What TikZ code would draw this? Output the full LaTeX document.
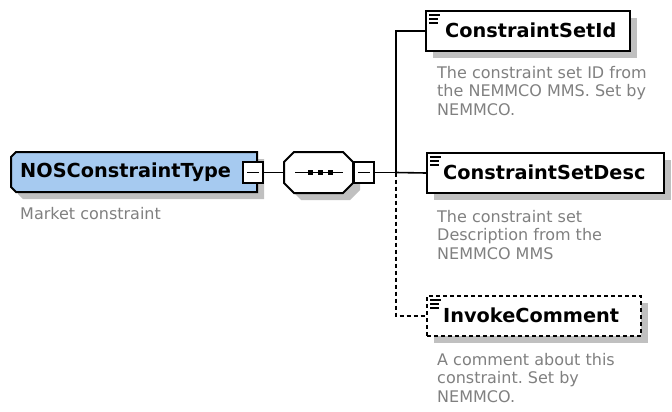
\documentclass[tikz,border=0pt]{standalone}
\usepackage{fontspec}
\setmainfont{DejaVu Sans}
\usetikzlibrary{shadows}
\definecolor{shadowgray}{HTML}{C0C0C0}
\definecolor{rootblue}{HTML}{A6CAF0}
\definecolor{descgray}{HTML}{808080}
\frenchspacing
\begin{document}
\begin{tikzpicture}[x=1pt,y=-1pt,
  elembox/.style={draw, line width=2pt, fill=white, minimum height=40pt, inner sep=0pt, anchor=north west,
    general shadow={fill=shadowgray, shadow xshift=7pt, shadow yshift=-7pt},
    path picture={
      \draw[line width=1.2pt, solid] ([shift={(3,4)}]path picture bounding box.north west) -- ++(11,0);
      \draw[line width=1.2pt, solid] ([shift={(3,8)}]path picture bounding box.north west) -- ++(9,0);
      \draw[line width=1.2pt, solid] ([shift={(3,12)}]path picture bounding box.north west) -- ++(9,0);
    }},
  elemname/.style={font=\bfseries\fontsize{19.3}{22}\selectfont, anchor=west, inner sep=0pt},
  desc/.style={font=\fontsize{16}{18.5}\selectfont, text=descgray, align=left, anchor=north west, inner sep=0pt},
  minusbox/.style={draw, fill=white, line width=1.6pt, minimum width=20pt, minimum height=21pt, inner sep=0pt,
    path picture={\draw[line width=1.6pt] ([xshift=4pt]path picture bounding box.west) -- ([xshift=-4pt]path picture bounding box.east);}},
  conn/.style={line width=1.6pt},
  optconn/.style={line width=1.6pt, dash pattern=on 4pt off 3pt}
]
\useasboundingbox (0,0) rectangle (672,412);

% root element
\fill[shadowgray, shift={(7,7)}] (16,152) -- (257,152) -- (257,192) -- (16,192) -- (11,187) -- (11,157) -- cycle;
\filldraw[fill=rootblue, line width=2pt] (16,152) -- (257,152) -- (257,192) -- (16,192) -- (11,187) -- (11,157) -- cycle;
\node[elemname] (root) at (20,172) {NOSConstraintType};
\node[minusbox] (rootm) at (253,172.5) {};
\node[desc, anchor=base west] (rootdesc) at (20,219) {Market constraint};

% sequence compositor
\fill[shadowgray, shift={(7,7)}] (294,152) -- (343,152) -- (353,162) -- (353,183) -- (343,193) -- (294,193) -- (284,183) -- (284,162) -- cycle;
\filldraw[fill=white, line width=2pt] (294,152) -- (343,152) -- (353,162) -- (353,183) -- (343,193) -- (294,193) -- (284,183) -- (284,162) -- cycle;
\node[minimum width=69pt, minimum height=41pt, inner sep=0pt] (seq) at (318.5,172.5) {};
\draw[line width=1.6pt] (295,172.5) -- (343,172.5);
\fill (307.5,170) rectangle (312.5,175);
\fill (317.5,170) rectangle (322.5,175);
\fill (327.5,170) rectangle (332.5,175);
\node[minusbox] (seqm) at (364,172.5) {};

% children
\node[elembox, minimum width=204pt] (c1) at (425,10) {};
\node[elemname] (c1n) at (445,30) {ConstraintSetId};
\node[desc] (c1d) at (437,66) {The constraint set ID from\\the NEMMCO MMS. Set by\\NEMMCO.};

\node[elembox, minimum width=237pt] (c2) at (426,152) {};
\node[elemname] (c2n) at (443,172) {ConstraintSetDesc};
\node[desc] (c2d) at (437,210) {The constraint set\\Description from the\\NEMMCO MMS};

\node[elembox, minimum width=214pt, dash pattern=on 4pt off 3pt] (c3) at (426,295) {};
\node[elemname] (c3n) at (443,315) {InvokeComment};
\node[desc] (c3d) at (437,353) {A comment about this\\constraint. Set by\\NEMMCO.};

% connectors
\coordinate (junc) at (396,172.5);
\draw[conn] (rootm.east) -- (seq.west);
\draw[conn] (seqm.east) -- (junc);
\draw[conn] (c1.west) -| (junc);
\draw[conn] (junc) -- (c2.west);
\draw[optconn] (junc) |- (c3.west);
\end{tikzpicture}
\end{document}
